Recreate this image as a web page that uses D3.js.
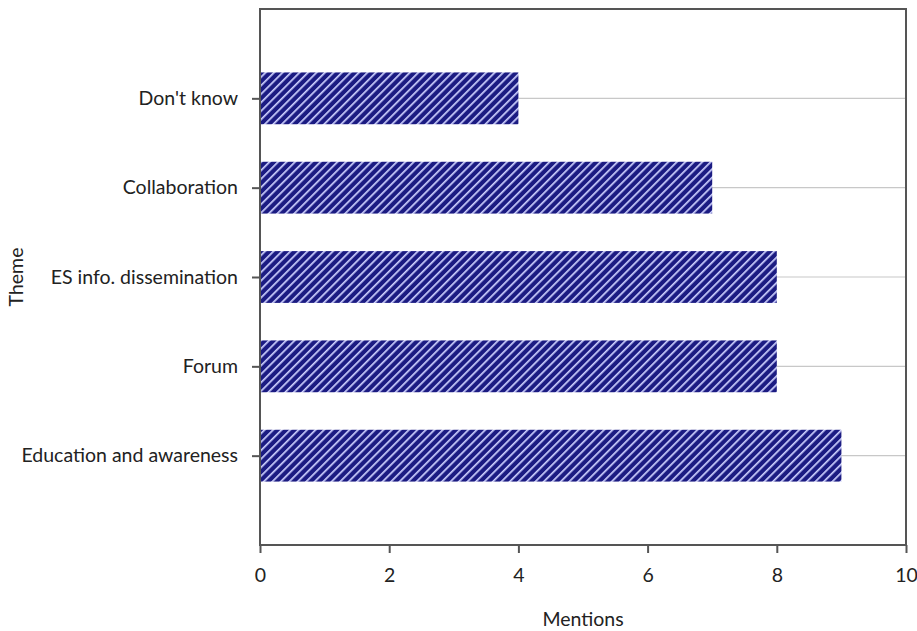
<!DOCTYPE html>
<html>
<head>
<meta charset="utf-8">
<script src="https://cdn.jsdelivr.net/npm/d3@7"></script>
<style>
  html, body { margin: 0; padding: 0; background: #fff; }
  svg text { font-family: Lato, "Open Sans", sans-serif; fill: #222; }
</style>
</head>
<body>
<svg id="chart" width="917" height="631"></svg>
<script>
// Themes, top to bottom, and how often each was mentioned
const themes = ["Don't know", "Collaboration", "ES info. dissemination", "Forum", "Education and awareness"];
const mentions = [4, 7, 8, 8, 9];
const xTicks = [0, 2, 4, 6, 8, 10];

const svg = d3.select("#chart");
const margin = { top: 9, right: 11, bottom: 86, left: 260 };
const W = 917, H = 631;
const innerW = W - margin.left - margin.right;
const innerH = H - margin.top - margin.bottom;
const fs = 19.5;

const x = d3.scaleLinear().domain([0, 10]).range([0, innerW]);
const y = d3.scalePoint().domain(themes).range([0, innerH]).padding(1);
const barH = y.step() * 0.58;

// diagonal hatch fill for the bars
const defs = svg.append("defs");
const pat = defs.append("pattern")
  .attr("id", "hatch").attr("patternUnits", "userSpaceOnUse")
  .attr("width", 6).attr("height", 6)
  .attr("patternTransform", "rotate(45)");
pat.append("rect").attr("width", 6).attr("height", 6).attr("fill", "#1b1b82");
pat.append("rect").attr("x", 0).attr("width", 1.7).attr("height", 6).attr("fill", "#cdd0ff");

const g = svg.append("g").attr("transform", `translate(${margin.left},${margin.top})`);

// horizontal gridlines at each category
g.append("g").selectAll("line").data(themes).join("line")
  .attr("x1", 0).attr("x2", innerW)
  .attr("y1", d => y(d)).attr("y2", d => y(d))
  .attr("stroke", "#c8c8c8").attr("stroke-width", 1.2);

// bars
g.append("g").selectAll("rect").data(themes).join("rect")
  .attr("x", 0)
  .attr("y", d => y(d) - barH / 2)
  .attr("width", (d, i) => x(mentions[i]))
  .attr("height", barH)
  .attr("fill", "url(#hatch)");

// plot frame
g.append("rect").attr("width", innerW).attr("height", innerH)
  .attr("fill", "none").attr("stroke", "#555").attr("stroke-width", 2);

// x axis
const xAxis = g.append("g").attr("transform", `translate(0,${innerH})`)
  .call(d3.axisBottom(x).tickValues(xTicks).tickSize(8).tickPadding(15).tickFormat(d3.format("d")));
xAxis.select(".domain").remove();
xAxis.selectAll("line").attr("stroke", "#555").attr("stroke-width", 2);
xAxis.selectAll("text").attr("font-size", fs).attr("fill", "#222");

// y axis
const yAxis = g.append("g")
  .call(d3.axisLeft(y).tickSize(8).tickPadding(14));
yAxis.select(".domain").remove();
yAxis.selectAll("line").attr("stroke", "#555").attr("stroke-width", 2);
yAxis.selectAll("text").attr("font-size", fs).attr("fill", "#222");

// axis titles
svg.append("text")
  .attr("x", margin.left + innerW / 2 - 0).attr("y", 626)
  .attr("text-anchor", "middle").attr("font-size", fs)
  .text("Mentions");
svg.append("text")
  .attr("transform", `translate(23,${margin.top + innerH / 2}) rotate(-90)`)
  .attr("text-anchor", "middle").attr("font-size", fs)
  .text("Theme");
</script>
</body>
</html>
